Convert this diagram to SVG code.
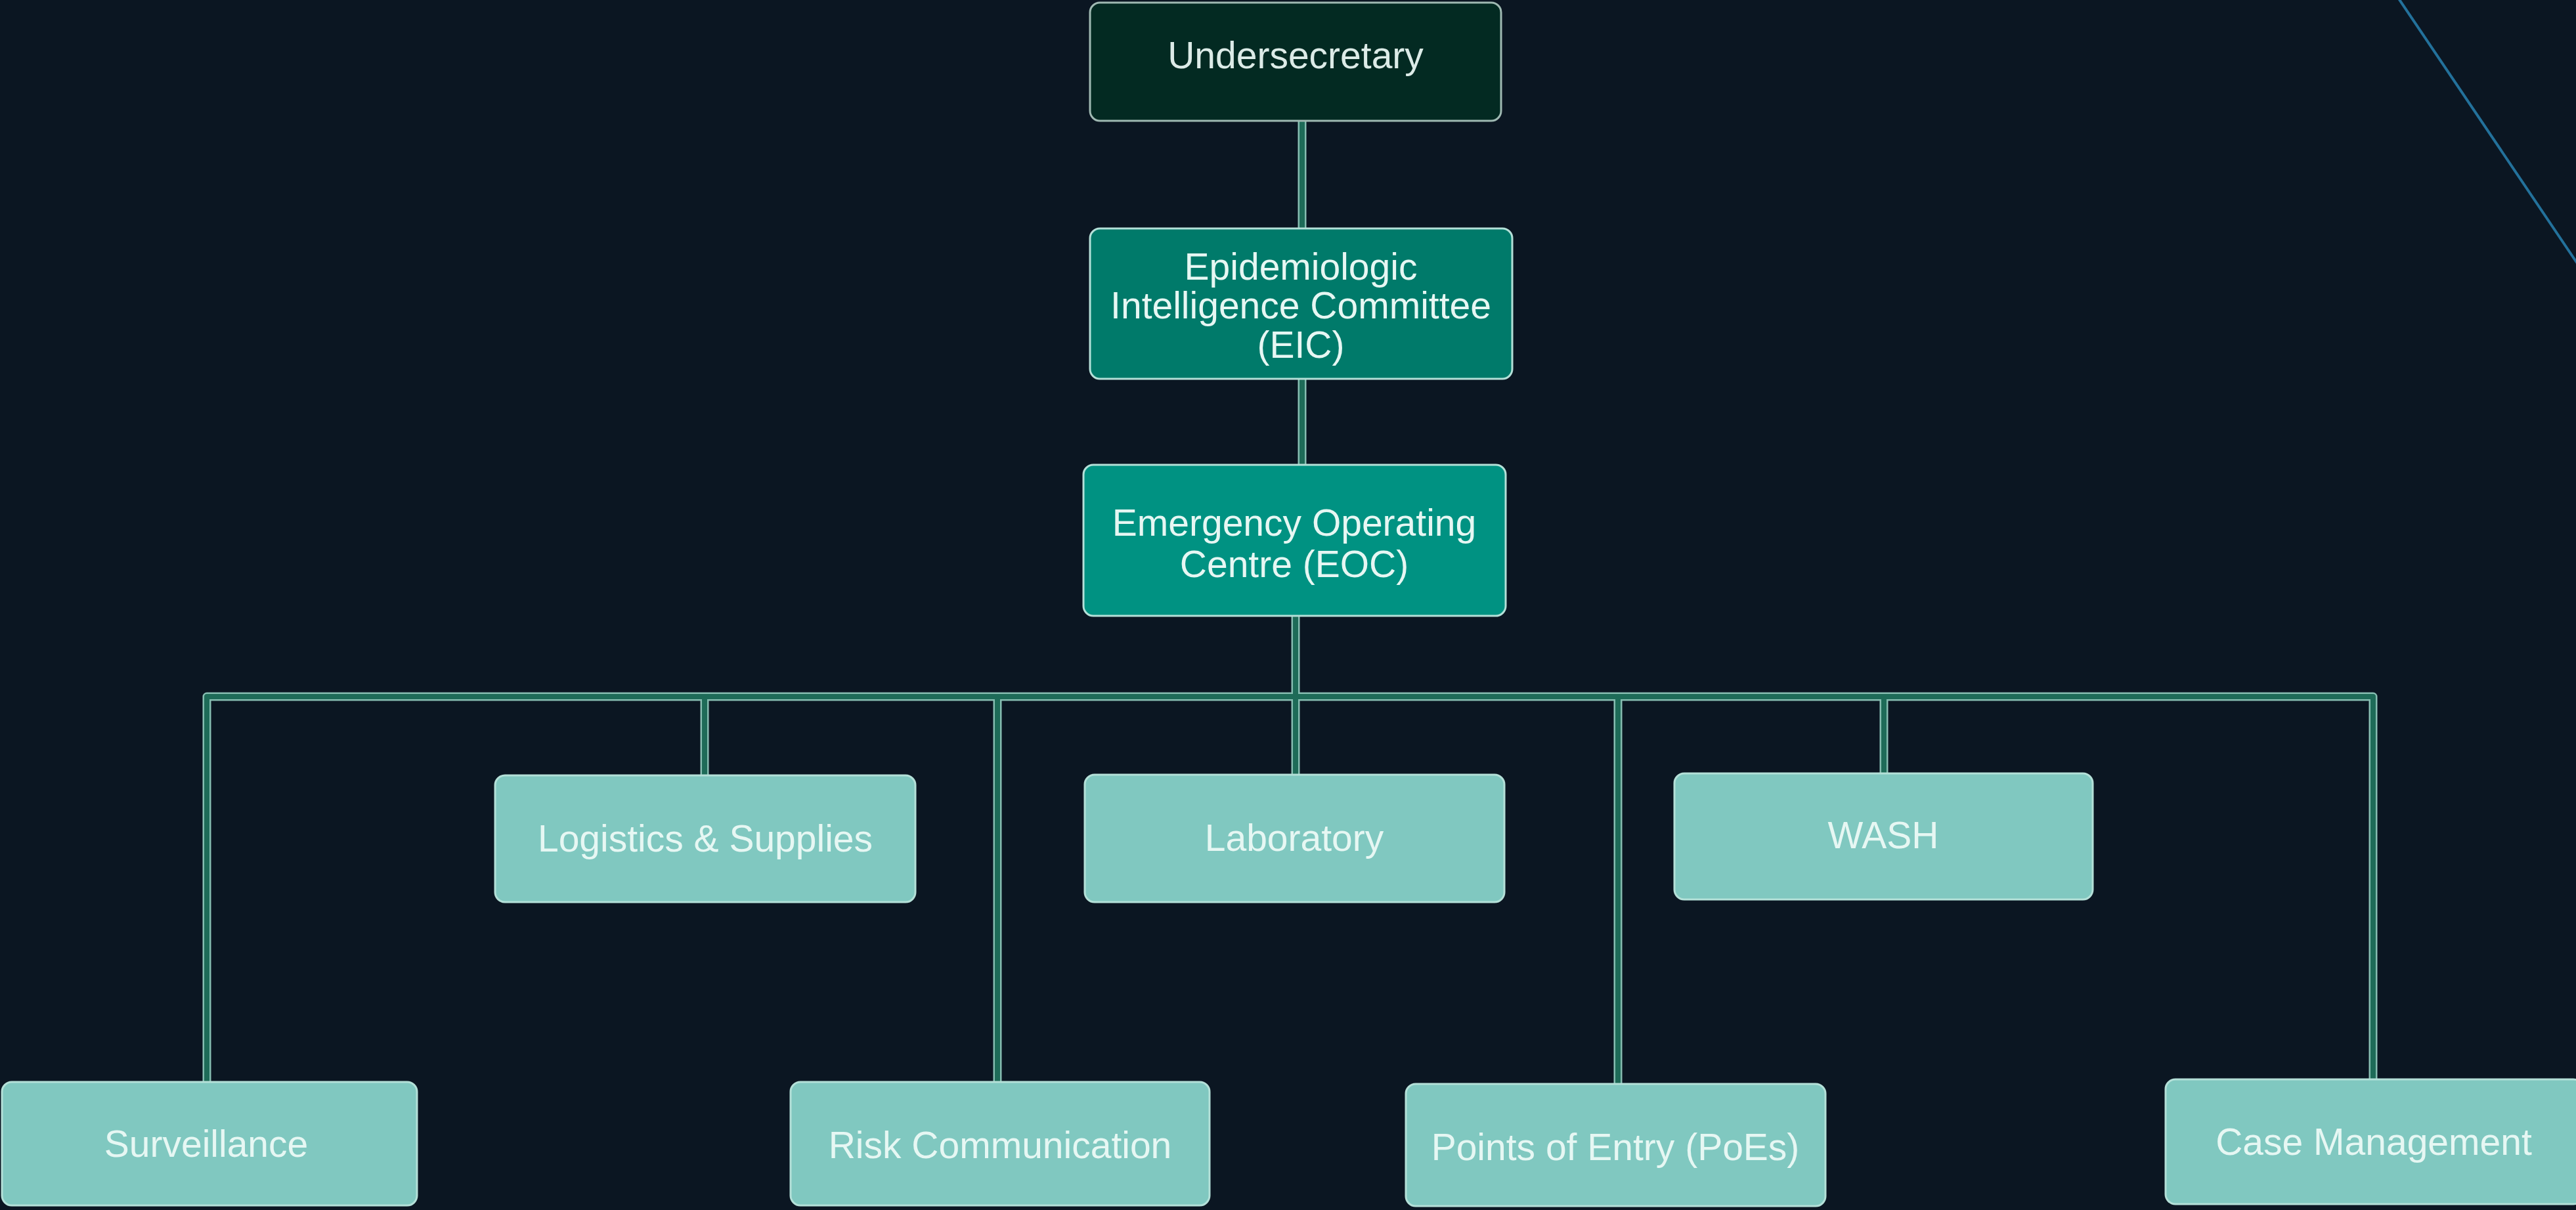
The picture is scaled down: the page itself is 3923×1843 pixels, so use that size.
<svg xmlns="http://www.w3.org/2000/svg" width="3923" height="1843" viewBox="0 0 3923 1843">
  <style>
    .bg { fill: #0b1622; }
    .box { stroke: #b4e0d8; stroke-width: 3; }
    .top { fill: #032a22; stroke: #9fb9b2; }
    .eic { fill: #007a6a; }
    .eoc { fill: #009282; }
    .unit { fill: #80c8c0; }
    .lbl { font-family: "Liberation Sans", Arial, sans-serif; font-size: 57px; fill: #e6f7f3; text-anchor: middle; }
    .lbl-dark { fill: #dcebe7; }
    .edge-outer { fill: none; stroke: #86bdb1; stroke-width: 13; stroke-linejoin: round; }
    .edge-inner { fill: none; stroke: #1e6b58; stroke-width: 8; stroke-linejoin: round; }
    .deco { stroke: #23719b; stroke-width: 4; fill: none; }
  </style>
  <defs>
    <path id="e1" d="M1983,183 V348"/>
    <path id="e2" d="M1983,577 V708"/>
    <path id="e3" d="M1973,938 V1180"/>
    <path id="e4" d="M315,1648 V1061 H3614 V1644"/>
    <path id="e5" d="M1073,1061 V1181"/>
    <path id="e6" d="M1519,1061 V1648"/>
    <path id="e7" d="M2464,1061 V1651"/>
    <path id="e8" d="M2869,1061 V1178"/>
  </defs>
  <rect class="bg" x="0" y="0" width="3923" height="1843"/>
  <line class="deco" x1="3653" y1="-2" x2="3935" y2="416"/>

  <g id="connectors">
    <g class="edge-outer">
      <use href="#e1"/><use href="#e2"/><use href="#e3"/><use href="#e4"/>
      <use href="#e5"/><use href="#e6"/><use href="#e7"/><use href="#e8"/>
    </g>
    <g class="edge-inner">
      <use href="#e1"/><use href="#e2"/><use href="#e3"/><use href="#e4"/>
      <use href="#e5"/><use href="#e6"/><use href="#e7"/><use href="#e8"/>
    </g>
  </g>

  <g id="node-undersecretary">
    <rect class="box top" x="1660" y="4" width="626" height="180" rx="15"/>
    <text class="lbl lbl-dark" x="1973" y="104">Undersecretary</text>
  </g>
  <g id="node-eic">
    <rect class="box eic" x="1660" y="348" width="643" height="229" rx="15"/>
    <text class="lbl" x="1981" y="426">Epidemiologic</text>
    <text class="lbl" x="1981" y="485">Intelligence Committee</text>
    <text class="lbl" x="1981" y="545">(EIC)</text>
  </g>
  <g id="node-eoc">
    <rect class="box eoc" x="1650" y="708" width="643" height="230" rx="15"/>
    <text class="lbl" x="1971" y="816">Emergency Operating</text>
    <text class="lbl" x="1971" y="879">Centre (EOC)</text>
  </g>
  <g id="node-logistics">
    <rect class="box unit" x="754" y="1181" width="640" height="193" rx="15"/>
    <text class="lbl" x="1074" y="1297">Logistics &amp; Supplies</text>
  </g>
  <g id="node-laboratory">
    <rect class="box unit" x="1652" y="1180" width="639" height="194" rx="15"/>
    <text class="lbl" x="1971" y="1296">Laboratory</text>
  </g>
  <g id="node-wash">
    <rect class="box unit" x="2550" y="1178" width="637" height="192" rx="15"/>
    <text class="lbl" x="2868" y="1292">WASH</text>
  </g>
  <g id="node-surveillance">
    <rect class="box unit" x="3" y="1648" width="632" height="188" rx="15"/>
    <text class="lbl" x="314" y="1762">Surveillance</text>
  </g>
  <g id="node-risk">
    <rect class="box unit" x="1204" y="1648" width="638" height="188" rx="15"/>
    <text class="lbl" x="1523" y="1764">Risk Communication</text>
  </g>
  <g id="node-poe">
    <rect class="box unit" x="2141" y="1651" width="639" height="186" rx="15"/>
    <text class="lbl" x="2460" y="1767">Points of Entry (PoEs)</text>
  </g>
  <g id="node-case">
    <rect class="box unit" x="3298" y="1644" width="636" height="190" rx="15"/>
    <text class="lbl" x="3615" y="1759">Case Management</text>
  </g>
</svg>
